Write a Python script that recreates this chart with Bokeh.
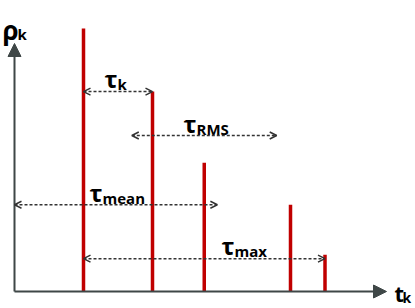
from bokeh.plotting import figure
from bokeh.models import Arrow, NormalHead, OpenHead, Range1d
from bokeh.core.properties import value
from bokeh.embed import file_html
from bokeh.resources import INLINE

# power delay profile: delays t_k and powers rho_k
delays = [1.0, 2.0, 2.75, 4.0, 4.5]
powers = [1.0, 0.76, 0.49, 0.33, 0.14]

# delay-spread markers
span_subs = ["k", "RMS", "mean", "max"]
span_start = [1.0, 1.70, 0.0, 1.0]
span_end = [2.0, 3.80, 2.94, 4.5]
span_level = [0.76, 0.593, 0.33, 0.125]

# pixel <-> data helpers (layout only)
SX, SY = 69.0, 263.0
OX, OY = 14.0, 291.0
W, H = 415, 308


def X(px):
    return (px - OX) / SX


def Y(py):
    return (OY - py) / SY


p = figure(width=W, height=H, output_backend="svg", toolbar_location=None,
           x_range=Range1d(X(0), X(W)), y_range=Range1d(Y(H), Y(0)),
           min_border=0, outline_line_color=None)
p.axis.visible = False
p.grid.visible = False
p.background_fill_color = "white"
p.border_fill_color = "white"

axis_col = "#3f4747"
# axes with arrow heads
p.add_layout(Arrow(end=NormalHead(size=13, fill_color=axis_col, line_color=axis_col),
                   x_start=0, y_start=0, x_end=X(386), y_end=0,
                   line_color=axis_col, line_width=2))
p.add_layout(Arrow(end=NormalHead(size=13, fill_color=axis_col, line_color=axis_col),
                   x_start=0, y_start=0, x_end=0, y_end=Y(43),
                   line_color=axis_col, line_width=2))

# impulses
p.segment(x0=delays, y0=[0] * len(delays), x1=delays, y1=powers,
          line_color="#c00000", line_width=3.5)

# dashed double arrows
dash_col = "#333333"
for s, e, lv in zip(span_start, span_end, span_level):
    p.add_layout(Arrow(start=OpenHead(size=7, line_color=dash_col, line_width=1.5),
                       end=OpenHead(size=7, line_color=dash_col, line_width=1.5),
                       x_start=s, y_start=lv, x_end=e, y_end=lv,
                       line_color=dash_col, line_width=1.5, line_dash="3 2"))

# labels: tau with subscripts
tau_px = [(104, 78), (183, 123), (89, 192), (221, 245)]
p.text(x=[X(a) for a, b in tau_px], y=[Y(b) for a, b in tau_px], text=["τ"] * 4,
       text_font=value("Open Sans"), text_font_size="24px", text_font_style="bold",
       text_baseline="alphabetic", text_align="left", text_color="black")
p.text(x=[X(a + 13) for a, b in tau_px], y=[Y(b + 5) for a, b in tau_px], text=span_subs,
       text_font=value("Open Sans"), text_font_size="15px", text_font_style="bold",
       text_baseline="alphabetic", text_align="left", text_color="black")

# axis titles
p.text(x=[X(2)], y=[Y(29)], text=["ρ"], text_font=value("Open Sans"), text_font_size="26px",
       text_font_style="bold", text_baseline="alphabetic", text_align="left", text_color="black")
p.text(x=[X(17)], y=[Y(33)], text=["k"], text_font=value("Open Sans"), text_font_size="15px",
       text_font_style="bold", text_baseline="alphabetic", text_align="left", text_color="black")
p.text(x=[X(394)], y=[Y(292)], text=["t"], text_font=value("Open Sans"), text_font_size="22px",
       text_font_style="bold", text_baseline="alphabetic", text_align="left", text_color="black")
p.text(x=[X(402)], y=[Y(297)], text=["k"], text_font=value("Open Sans"), text_font_size="14px",
       text_font_style="bold", text_baseline="alphabetic", text_align="left", text_color="black")

open("out.html", "w").write(file_html(p, INLINE))
